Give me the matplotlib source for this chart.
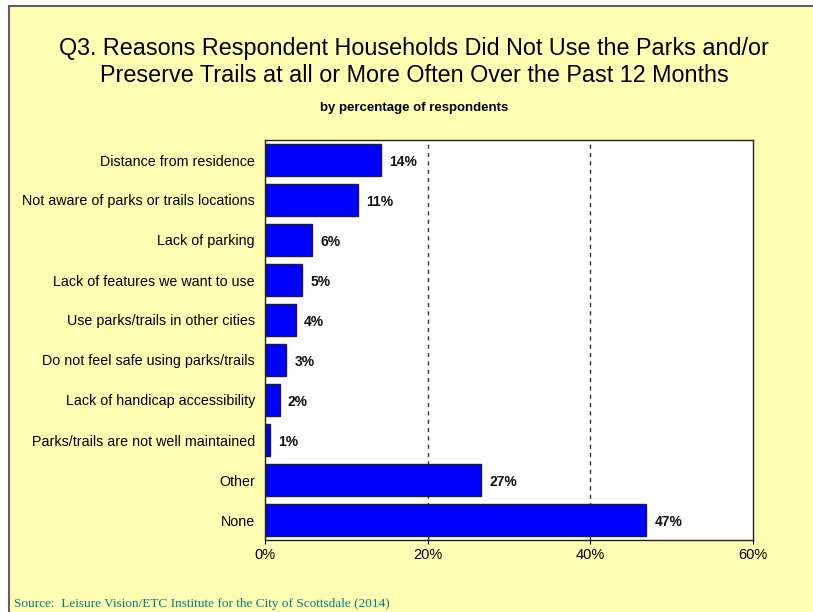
import matplotlib
matplotlib.use('Agg')
import matplotlib.pyplot as plt
from matplotlib.patches import Rectangle

# data
reasons = [
    'Distance from residence',
    'Not aware of parks or trails locations',
    'Lack of parking',
    'Lack of features we want to use',
    'Use parks/trails in other cities',
    'Do not feel safe using parks/trails',
    'Lack of handicap accessibility',
    'Parks/trails are not well maintained',
    'Other',
    'None',
]
percents = [14.3, 11.4, 5.8, 4.6, 3.8, 2.6, 1.8, 0.6, 26.6, 46.9]
x_ticks = [0, 20, 40, 60]

bg = '#FFFFB3'
plt.rcParams['font.family'] = ['Liberation Sans', 'DejaVu Sans']

fig = plt.figure(figsize=(8.13, 6.12), dpi=100, facecolor='white')
W, H = 813, 612

# yellow chart area with grey frame (top and left edges visible)
fig.patches.append(Rectangle((9 / W, 0), 1 - 9 / W, 1 - 6 / H,
                             transform=fig.transFigure, facecolor=bg,
                             edgecolor='none', zorder=-5))
fig.add_artist(plt.Line2D([9 / W, 9 / W], [0, 1 - 6 / H], transform=fig.transFigure,
                          color='#606060', lw=1.5))
fig.add_artist(plt.Line2D([9 / W, 1], [1 - 6 / H, 1 - 6 / H], transform=fig.transFigure,
                          color='#606060', lw=1.5))

ax = fig.add_axes([265 / W, 1 - 540 / H, (753 - 265) / W, (540 - 140) / H])
ax.set_facecolor('white')

ypos = list(range(len(reasons)))
ax.barh(ypos, percents, height=0.82, color='#0000FF', edgecolor='#202020',
        linewidth=1, zorder=3)
for y, p in zip(ypos, percents):
    ax.text(p + 1.0, y, f'{round(p)}%', va='center_baseline', ha='left',
            fontsize=10, fontweight='bold', color='#111111', zorder=4)

ax.set_xlim(0, 60)
ax.set_ylim(len(reasons) - 0.5, -0.5)
ax.set_xticks(x_ticks)
ax.set_xticklabels([f'{t}%' for t in x_ticks], fontsize=10.5)
ax.set_yticks(ypos)
ax.set_yticklabels(reasons, fontsize=10.3)
ax.tick_params(axis='y', length=0, pad=7.2)
ax.tick_params(axis='x', length=3, direction='out', pad=3)
for x in x_ticks[1:-1]:
    ax.axvline(x, color='#333333', lw=1, ls=(0, (3, 3)), zorder=1)
for s in ax.spines.values():
    s.set_color('#222222')
    s.set_linewidth(1)

cx = 414 / W
fig.text(cx, 1 - 48 / H, 'Q3. Reasons Respondent Households Did Not Use the Parks and/or',
         ha='center', va='center', fontsize=16.8)
fig.text(cx, 1 - 76 / H, 'Preserve Trails at all or More Often Over the Past 12 Months',
         ha='center', va='center', fontsize=16.8)
fig.text(cx, 1 - 108 / H, 'by percentage of respondents',
         ha='center', va='center', fontsize=9.5, fontweight='bold')
fig.text(14 / W, 1 - 604 / H, 'Source:  Leisure Vision/ETC Institute for the City of Scottsdale (2014)',
         ha='left', va='center', fontsize=9.5, color='#008080',
         family=['Liberation Serif', 'DejaVu Serif'])

fig.savefig('out.png', dpi=100, facecolor='white')
